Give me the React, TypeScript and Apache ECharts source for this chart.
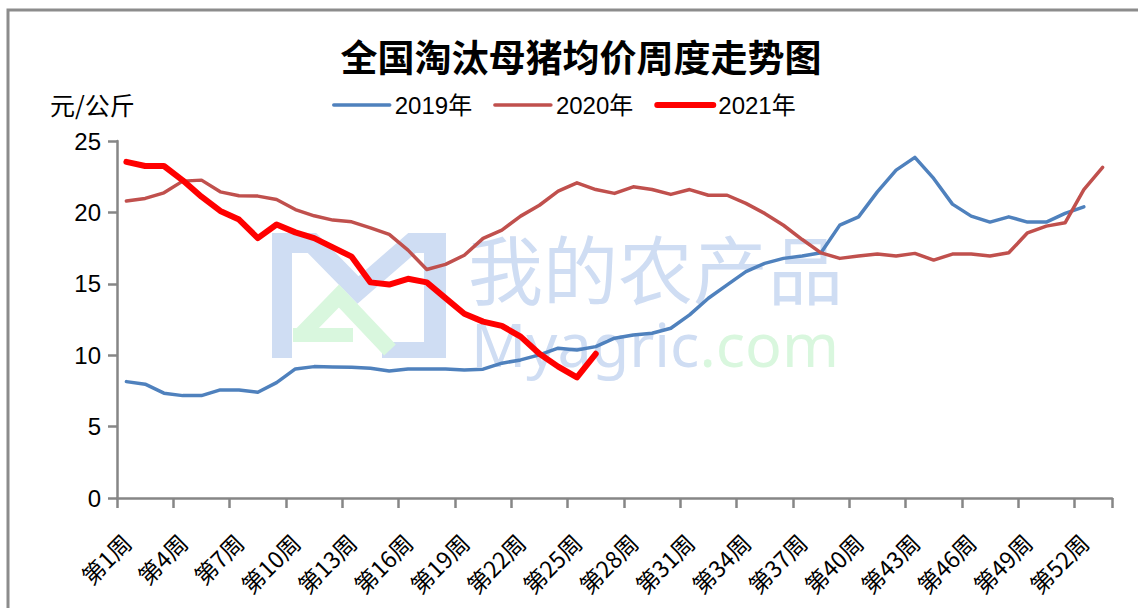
import React, { useEffect, useRef } from "react";
import * as echarts from "echarts";

const weeks: string[] = Array.from({ length: 53 }, (_, i) => `第${i + 1}周`);

const y2019: number[] = [
  8.15, 7.97, 7.34, 7.17, 7.17, 7.57, 7.57, 7.41, 8.08, 9.04,
  9.2, 9.18, 9.16, 9.09, 8.9, 9.04, 9.04, 9.04, 8.97, 9.02,
  9.44, 9.67, 10.02, 10.49, 10.37, 10.6, 11.19, 11.42, 11.54, 11.89,
  12.82, 13.99, 14.92, 15.85, 16.43, 16.78, 16.94, 17.17, 19.11, 19.69,
  21.44, 22.96, 23.85, 22.38, 20.58, 19.74, 19.32, 19.69, 19.32, 19.32,
  19.93, 20.39,
];

const y2020: number[] = [
  20.8, 20.98, 21.37, 22.19, 22.26, 21.44, 21.16, 21.14, 20.9, 20.2,
  19.76, 19.46, 19.34, 18.92, 18.46, 17.36, 16.0, 16.36, 17.0, 18.18,
  18.76, 19.74, 20.5, 21.49, 22.07, 21.6, 21.33, 21.79, 21.6, 21.26,
  21.6, 21.2, 21.2, 20.63, 19.93, 19.1, 18.1, 17.17, 16.78, 16.94,
  17.08, 16.94, 17.13, 16.66, 17.08, 17.08, 16.94, 17.17, 18.57, 19.04,
  19.27, 21.6, 23.15,
];

const y2021: number[] = [
  23.54, 23.25, 23.25, 22.25, 21.1, 20.1, 19.5, 18.2, 19.15, 18.6,
  18.2, 17.55, 16.9, 15.1, 14.95, 15.35, 15.1, 14.0, 12.9, 12.35,
  12.05, 11.3, 10.1, 9.2, 8.45, 10.1,
];

const seriesNames: string[] = ["2019年", "2020年", "2021年"];
const titleText = "全国淘汰母猪均价周度走势图";
const unitText = "元/公斤";

const FONT = "'Liberation Sans', 'Noto Sans CJK SC', sans-serif";
const CJK = "'Noto Sans CJK SC', sans-serif";

export default function App() {
  const ref = useRef<HTMLDivElement | null>(null);

  useEffect(() => {
    if (!ref.current) return;
    const chart = echarts.init(ref.current, undefined, { renderer: "svg" });
    const wmBlue = "#CFDDF3";
    const wmGreen = "#D9F7DE";
    const colors = ["#4F81BD", "#C0504D", "#FF0000"];
    const widths = [3.5, 3.5, 6];
    chart.setOption({
      animation: false,
      backgroundColor: "#ffffff",
      title: {
        text: titleText,
        left: 576,
        top: 32,
        textAlign: "center",
        textStyle: { fontFamily: CJK, fontSize: 37, fontWeight: "bold", color: "#000" },
      },
      legend: {
        data: seriesNames.map((n, i) => ({
          name: n,
          lineStyle: { width: widths[i], color: colors[i], cap: "round" },
        })),
        left: 327,
        top: 88,
        itemWidth: 56,
        itemHeight: 14,
        itemGap: 21,
        itemStyle: { opacity: 0 },
        textStyle: { fontFamily: FONT, fontSize: 24, color: "#000" },
      },
      grid: { left: 117, right: 26, top: 141, bottom: 110, containLabel: false },
      xAxis: {
        type: "category",
        data: weeks,
        boundaryGap: true,
        axisLine: { lineStyle: { color: "#868686", width: 2.5 } },
        axisTick: { show: true, interval: 2, length: 10, lineStyle: { color: "#868686", width: 2.5 } },
        axisLabel: {
          interval: 2,
          rotate: 45,
          margin: 40,
          fontFamily: CJK,
          fontSize: 23,
          color: "#000",
        },
        splitLine: { show: false },
      },
      yAxis: {
        type: "value",
        min: 0,
        max: 25,
        interval: 5,
        axisLine: { show: true, lineStyle: { color: "#868686", width: 2.5 } },
        axisTick: { show: true, length: 9, lineStyle: { color: "#868686", width: 2.5 } },
        axisLabel: { fontFamily: FONT, fontSize: 24, color: "#000", margin: 16 },
        splitLine: { show: false },
      },
      graphic: [
        {
          type: "rect",
          z: 100,
          silent: true,
          shape: { x: 8, y: 10, width: 1300, height: 800 },
          style: { fill: "none", stroke: "#8C8C8C", lineWidth: 3 },
        },
        {
          type: "text",
          left: 50,
          top: 91,
          style: { text: unitText, fontFamily: CJK, fontSize: 25, fill: "#000" },
        },
        // watermark logo
        {
          type: "polyline",
          silent: true,
          shape: { points: [[282, 358], [282, 243], [312, 243], [358, 290], [412, 243], [435, 243]] },
          style: { stroke: wmBlue, lineWidth: 20, fill: "none" },
        },
        {
          type: "rect",
          silent: true,
          shape: { x: 424, y: 233, width: 22, height: 125 },
          style: { fill: wmBlue },
        },
        {
          type: "rect",
          silent: true,
          shape: { x: 382, y: 342, width: 64, height: 16 },
          style: { fill: wmBlue },
        },
        {
          type: "polyline",
          silent: true,
          shape: { points: [[300, 336], [339, 296], [390, 350]] },
          style: { stroke: wmGreen, lineWidth: 16, fill: "none" },
        },
        {
          type: "rect",
          silent: true,
          shape: { x: 293, y: 328, width: 60, height: 14 },
          style: { fill: wmGreen },
        },
        {
          type: "text",
          silent: true,
          x: 468,
          y: 266,
          style: {
            text: "我的农产品",
            fontFamily: CJK,
            fontSize: 75,
            lineHeight: 66,
            fill: wmBlue,
            verticalAlign: "middle",
          },
        },
        {
          type: "text",
          silent: true,
          x: 471,
          y: 343,
          style: {
            text: "{a|Myagric}{b|.com}",
            fontFamily: "'Noto Sans', sans-serif",
            fontSize: 61,
            lineHeight: 50,
            verticalAlign: "middle",
            rich: {
              a: { fill: wmBlue, fontSize: 61, lineHeight: 50, fontFamily: "'Noto Sans', sans-serif" },
              b: { fill: wmGreen, fontSize: 61, lineHeight: 50, fontFamily: "'Noto Sans', sans-serif" },
            },
          },
        },
      ],
      series: [
        {
          name: seriesNames[0],
          type: "line",
          data: y2019,
          symbol: "none",
          z: 3,
          lineStyle: { color: colors[0], width: widths[0], cap: "round", join: "round" },
          itemStyle: { color: colors[0] },
        },
        {
          name: seriesNames[1],
          type: "line",
          data: y2020,
          symbol: "none",
          z: 3,
          lineStyle: { color: colors[1], width: widths[1], cap: "round", join: "round" },
          itemStyle: { color: colors[1] },
        },
        {
          name: seriesNames[2],
          type: "line",
          data: y2021,
          symbol: "none",
          z: 4,
          lineStyle: { color: colors[2], width: widths[2], cap: "round", join: "round" },
          itemStyle: { color: colors[2] },
        },
      ],
    });
    return () => chart.dispose();
  }, []);

  return (
    <div
      ref={ref}
      style={{ position: "fixed", left: 0, top: 0, width: 1138, height: 608, background: "#fff" }}
    />
  );
}
